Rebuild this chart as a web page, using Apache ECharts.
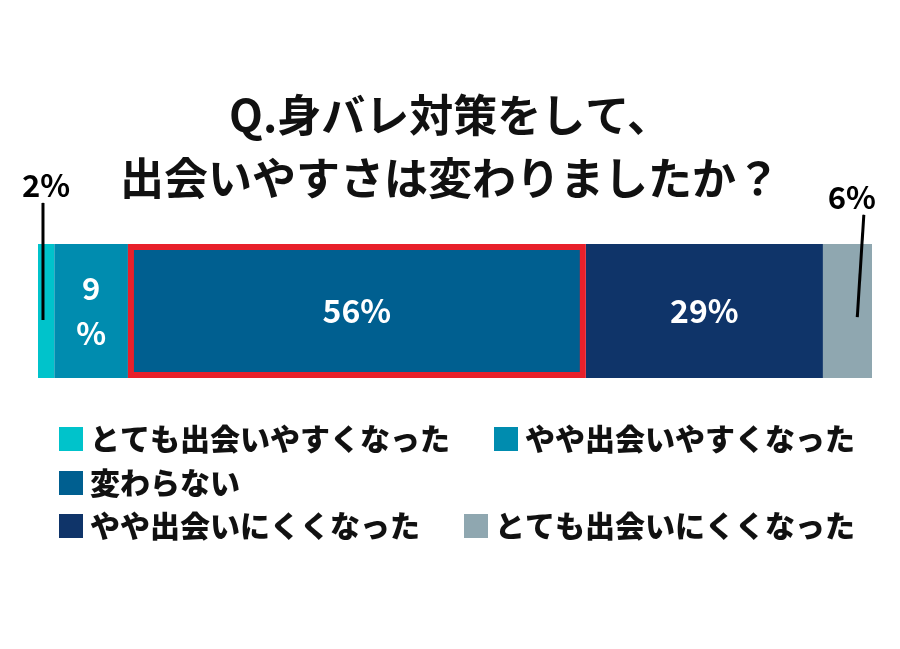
<!DOCTYPE html>
<html>
<head>
<meta charset="utf-8">
<style>html,body{margin:0;padding:0;background:#fff;}#c{width:900px;height:649px;}</style>
<script src="https://cdn.jsdelivr.net/npm/echarts@6/dist/echarts.min.js"></script>
</head>
<body>
<div id="c"></div>
<script>
const titleLines = ['Q.身バレ対策をして、', '出会いやすさは変わりましたか？'];
const categories = ['回答'];
const seriesNames = ['とても出会いやすくなった', 'やや出会いやすくなった', '変わらない', 'やや出会いにくくなった', 'とても出会いにくくなった'];
const seriesValues = [2, 9, 56, 29, 6];
const seriesColors = ['#00C3CB', '#008CAF', '#005F90', '#0F3469', '#8FA7B0'];
const legendRows = [[0, 1], [2], [3, 4]];

const total = seriesValues.reduce((a, b) => a + b, 0);
const FONT = '"Noto Sans CJK JP", "Noto Sans", sans-serif';

const chart = echarts.init(document.getElementById('c'));

const barSeries = seriesNames.map((name, i) => {
  const s = {
    name: name,
    type: 'bar',
    stack: 'total',
    xAxisIndex: 0,
    yAxisIndex: 0,
    barWidth: '100%',
    data: [seriesValues[i]],
    itemStyle: { color: seriesColors[i] },
    label: { show: false }
  };
  if (i === 1) {
    s.label = { show: true, position: 'inside', color: '#fff', fontFamily: FONT, fontWeight: 'bold', fontSize: 31, lineHeight: 45,
      formatter: p => p.value + '\n%' };
  }
  if (i === 2 || i === 3) {
    s.label = { show: true, position: 'inside', color: '#fff', fontFamily: FONT, fontWeight: 'bold', fontSize: 32,
      formatter: p => p.value + '%' };
  }
  if (i === 2) {
    s.itemStyle = { color: seriesColors[i], borderColor: '#E8202A', borderWidth: 6 };
    s.z = 5;
  }
  return s;
});

// leader lines for the small segments (annotation, in overlay grid coordinates)
const leaders = [
  { idx: 0, pts: [[0.61, 0.279], [0.61, 0.841]], offset: [3, 0] },
  { idx: 4, pts: [[100.2, 0.293], [101.0, 0.784]], offset: [-12, 0] }
];
const leaderSeries = [];
leaders.forEach(l => {
  leaderSeries.push({
    type: 'line',
    xAxisIndex: 1,
    yAxisIndex: 1,
    silent: true,
    symbol: 'none',
    z: 10,
    lineStyle: { color: '#000', width: 3 },
    data: l.pts
  });
  leaderSeries.push({
    type: 'scatter',
    xAxisIndex: 1,
    yAxisIndex: 1,
    silent: true,
    symbolSize: 1,
    itemStyle: { color: '#000', opacity: 1 },
    z: 10,
    data: [l.pts[1]],
    label: { show: true, position: 'top', distance: 2, offset: l.offset, opacity: 1,
      formatter: () => seriesValues[l.idx] + '%', color: '#000', fontFamily: FONT, fontWeight: 'bold', fontSize: 31 }
  });
});

const legendTops = [424, 468, 511];
const legends = legendRows.map((row, r) => ({
  data: row.map(i => ({ name: seriesNames[i], icon: 'rect' })),
  left: 59,
  top: legendTops[r],
  orient: 'horizontal',
  padding: 0,
  itemWidth: 24,
  itemHeight: 24,
  itemGap: 44,
  itemStyle: { borderWidth: 0 },
  textStyle: { color: '#111', fontFamily: FONT, fontWeight: 900, fontSize: 30, padding: [0, 0, 0, 2] }
}));

chart.setOption({
  backgroundColor: '#fff',
  animation: false,
  title: {
    text: titleLines.join('\n'),
    left: 'center',
    top: 79,
    textStyle: { color: '#111', fontFamily: FONT, fontWeight: 'bold', fontSize: 44, lineHeight: 63 }
  },
  legend: legends,
  grid: [
    { left: 38, right: 28, top: 244, height: 134 },
    { left: 38, right: 28, top: 170, height: 208 }
  ],
  xAxis: [
    { type: 'value', gridIndex: 0, min: 0, max: total, show: false },
    { type: 'value', gridIndex: 1, min: 0, max: total, show: false }
  ],
  yAxis: [
    { type: 'category', gridIndex: 0, data: categories, show: false },
    { type: 'value', gridIndex: 1, min: 0, max: 1, show: false }
  ],
  series: barSeries.concat(leaderSeries)
});
</script>
</body>
</html>
